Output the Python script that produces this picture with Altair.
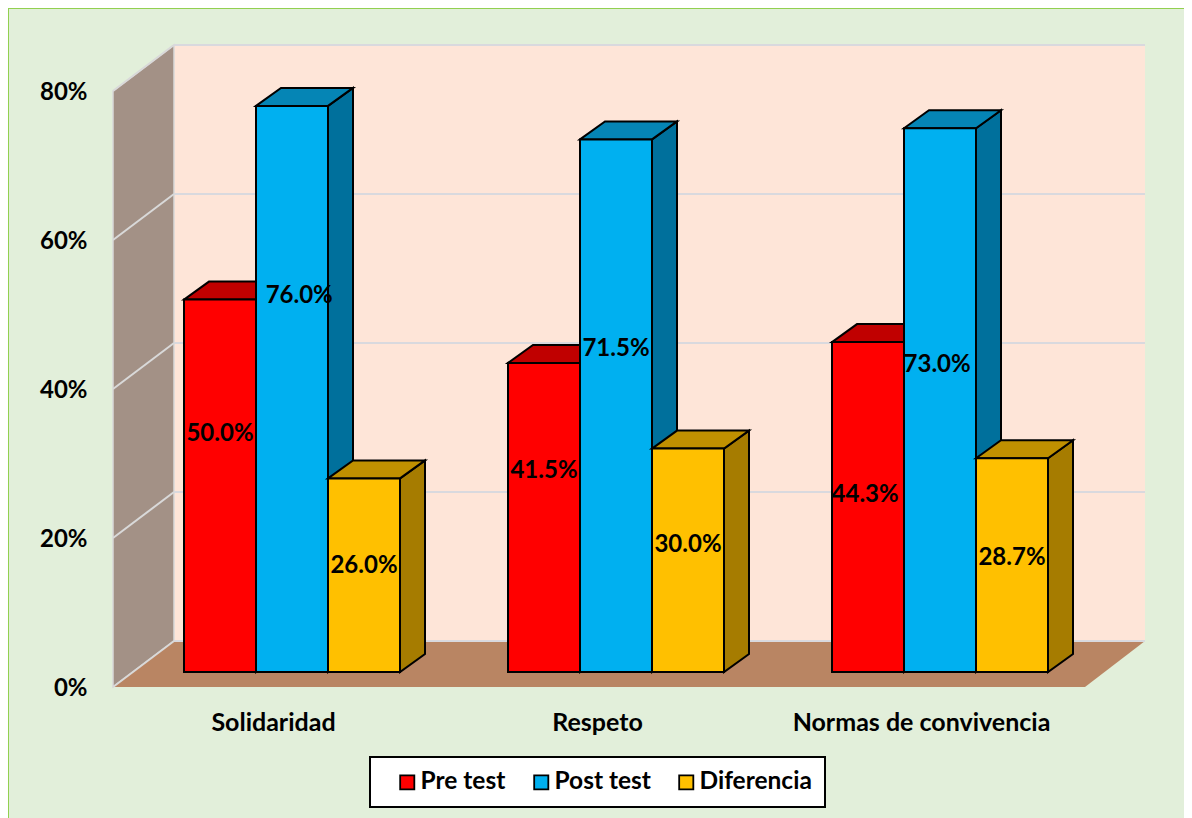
import altair as alt
import pandas as pd

categories = ["Solidaridad", "Respeto", "Normas de convivencia"]
series = ["Pre test", "Post test", "Diferencia"]
pre_test = [50.0, 41.5, 44.3]
post_test = [76.0, 71.5, 73.0]
diferencia = [26.0, 30.0, 28.7]
values = [pre_test, post_test, diferencia]
y_ticks = [0, 20, 40, 60, 80]

# where the data labels sit (percent height, bar-width offset from bar centre)
label_height = [[33.95, 52.45, 16.25], [29.05, 45.35, 19.05], [25.75, 43.25, 17.25]]
label_shift = [[0.0, 0.1, 0.0], [0.0, 0.0, 0.0], [-0.04, -0.04, 0.0]]

front = ["#FF0000", "#00B0F0", "#FFC000"]
top_c = ["#C00000", "#0585B5", "#C09000"]
side_c = ["#A00000", "#00709C", "#A67C00"]

W, H = 1176, 810
PX_X, PX_Y = 72.0, 7.45
Y0 = 679
x_dom = [0, W / PX_X]
y_dom = [-(H - Y0) / PX_Y, Y0 / PX_Y]
first_bar, group_step = 176 / PX_X, 4.5
dx, dy = 25 / PX_X, 18 / PX_Y
base = 2.0
wall_l, wall_r, floor_r = 105 / PX_X, 166 / PX_X + 0, 1077 / PX_X
wall_r2 = 1137 / PX_X
wall_dy = 46 / PX_Y
wall_top = 80 + wall_dy

label_ticks = [(265 + 324 * i) / PX_X for i in range(3)]
names_js = "[" + ",".join(f"'{c}'" for c in categories) + "]"
x_axis = alt.Axis(values=label_ticks, title=None, domain=False, ticks=False, grid=False,
                  offset=-96, labelPadding=0, labelBaseline="middle", labelFont="Lato",
                  labelFontWeight="bold", labelFontSize=25, labelColor="#000000", labelLimit=500,
                  labelOverlap=False, labelFlush=False,
                  labelExpr=f"{names_js}[round((datum.value-{label_ticks[0]})/{group_step})]")
y_axis = alt.Axis(values=y_ticks, title=None, domain=False, ticks=False, grid=False,
                  offset=-79, labelPadding=0, labelFont="Lato", labelFontWeight="bold",
                  labelFontSize=24, labelColor="#000000", labelOverlap=False, labelFlush=False,
                  labelOffset=1.5, labelExpr="datum.value+'%'")


def X(f):
    return alt.X(f, type="quantitative", scale=alt.Scale(domain=x_dom, nice=False, zero=False), axis=x_axis)


def Y(f):
    return alt.Y(f, type="quantitative", scale=alt.Scale(domain=y_dom, nice=False, zero=False), axis=y_axis,
                 stack=None)


fronts, tops, sides, labels = [], [], [], []
for g, cat in enumerate(categories):
    for s, name in enumerate(series):
        v = values[s][g]
        x0 = first_bar + g * group_step + s
        x1 = x0 + 1
        t = v + base
        fronts.append(dict(serie=name, x=x0, x2=x1, y=base, y2=t, s=s))
        bid = f"{g}-{s}"
        for xx, a, b in [(x0, t, t), (x0 + dx, t + dy, t), (x1, t + dy, t), (x1 + dx, t + dy, t + dy)]:
            tops.append(dict(id=bid, s=s, x=xx, y=a, y2=b, c=top_c[s]))
        for xx, a, b in [(x1, t, base), (x1 + dx, t + dy, base + dy)]:
            sides.append(dict(id=bid, s=s, x=xx, y=a, y2=b, c=side_c[s]))
        labels.append(dict(s=s, x=(x0 + x1) / 2 + label_shift[g][s], y=label_height[g][s],
                           t=f"{v:.1f}%"))
fronts, tops, sides, labels = map(pd.DataFrame, (fronts, tops, sides, labels))

# walls and floor
back = alt.Chart(pd.DataFrame([dict(x=wall_r, x2=wall_r2, y=wall_dy, y2=wall_top)])).mark_rect(color="#FEE5D8").encode(
    x=X("x"), x2="x2", y=Y("y"), y2="y2")
left_wall = alt.Chart(pd.DataFrame([dict(x=wall_l, y=0, y2=80), dict(x=wall_r, y=wall_dy, y2=wall_top)])).mark_area(
    color="#A39186", stroke="#D9D9D9", strokeWidth=1.5, orient="vertical").encode(
    x=X("x"), y=Y("y"), y2="y2")
floor = alt.Chart(pd.DataFrame([
    dict(x=wall_l, y=0, y2=0), dict(x=wall_r, y=wall_dy, y2=0),
    dict(x=floor_r, y=wall_dy, y2=0), dict(x=wall_r2, y=wall_dy, y2=wall_dy)])).mark_area(
    color="#B98563", orient="vertical").encode(x=X("x"), y=Y("y"), y2="y2")
grid_back = alt.Chart(pd.DataFrame({"y": [t + wall_dy for t in y_ticks], "x": wall_r, "x2": wall_r2})).mark_rule(
    color="#D9D9DE", strokeWidth=2).encode(x=X("x"), x2="x2", y=Y("y"))
grid_left = alt.Chart(pd.DataFrame(
    [dict(t=t, x=wall_l, y=t) for t in y_ticks] + [dict(t=t, x=wall_r, y=t + wall_dy) for t in y_ticks])).mark_line(
    color="#D9D9D9", strokeWidth=2).encode(x=X("x"), y=Y("y"), detail="t:N")

layers = [back, left_wall, floor, grid_back, grid_left]

color = alt.Color("serie:N", scale=alt.Scale(domain=series, range=front), sort=series,
                  legend=alt.Legend(orient="none", legendX=362, legendY=749, direction="horizontal", columns=3,
                                    title=None, fillColor="#FFFFFF", strokeColor="#000000", padding=13,
                                    symbolType="square", symbolSize=200, symbolStrokeColor="#000000",
                                    symbolStrokeWidth=1.8, symbolOffset=12, labelFont="Lato", labelFontWeight="bold",
                                    labelFontSize=24.5, labelColor="#000000", columnPadding=11, labelOffset=1,
                                    labelLimit=200))

for s in range(3):
    for df in (sides[sides.s == s], tops[tops.s == s]):
        layers.append(alt.Chart(df).mark_area(stroke="#000000", strokeWidth=2, orient="vertical", opacity=1).encode(
            x=X("x"), y=Y("y"), y2="y2",
            fill=alt.Fill("c:N", scale=None), detail="id:N"))
    layers.append(alt.Chart(fronts[fronts.s == s]).mark_bar(stroke="#000000", strokeWidth=2).encode(
        x=X("x"), x2="x2", y=Y("y"), y2="y2", color=color))

layers.append(alt.Chart(labels).mark_text(font="Lato", fontWeight="bold", fontSize=24, color="#000000").encode(
    x=X("x"), y=Y("y"), text="t:N"))

border_l = alt.Chart(pd.DataFrame({"a": [0]})).mark_rule(color="#92D050", strokeWidth=2).encode(
    x=alt.value(0), y=alt.value(0), y2=alt.value(H))
border_t = alt.Chart(pd.DataFrame({"a": [0]})).mark_rule(color="#92D050", strokeWidth=2).encode(
    x=alt.value(0), x2=alt.value(W), y=alt.value(0))
layers += [border_l, border_t]

chart = alt.layer(*layers).properties(
    width=W, height=H, padding=0, background="#E2EFDA", autosize=alt.AutoSizeParams(type="none")
).configure_view(stroke=None).configure_legend(strokeWidth=2)

chart.save("out.html", embed_options={"renderer": "svg", "actions": False})
